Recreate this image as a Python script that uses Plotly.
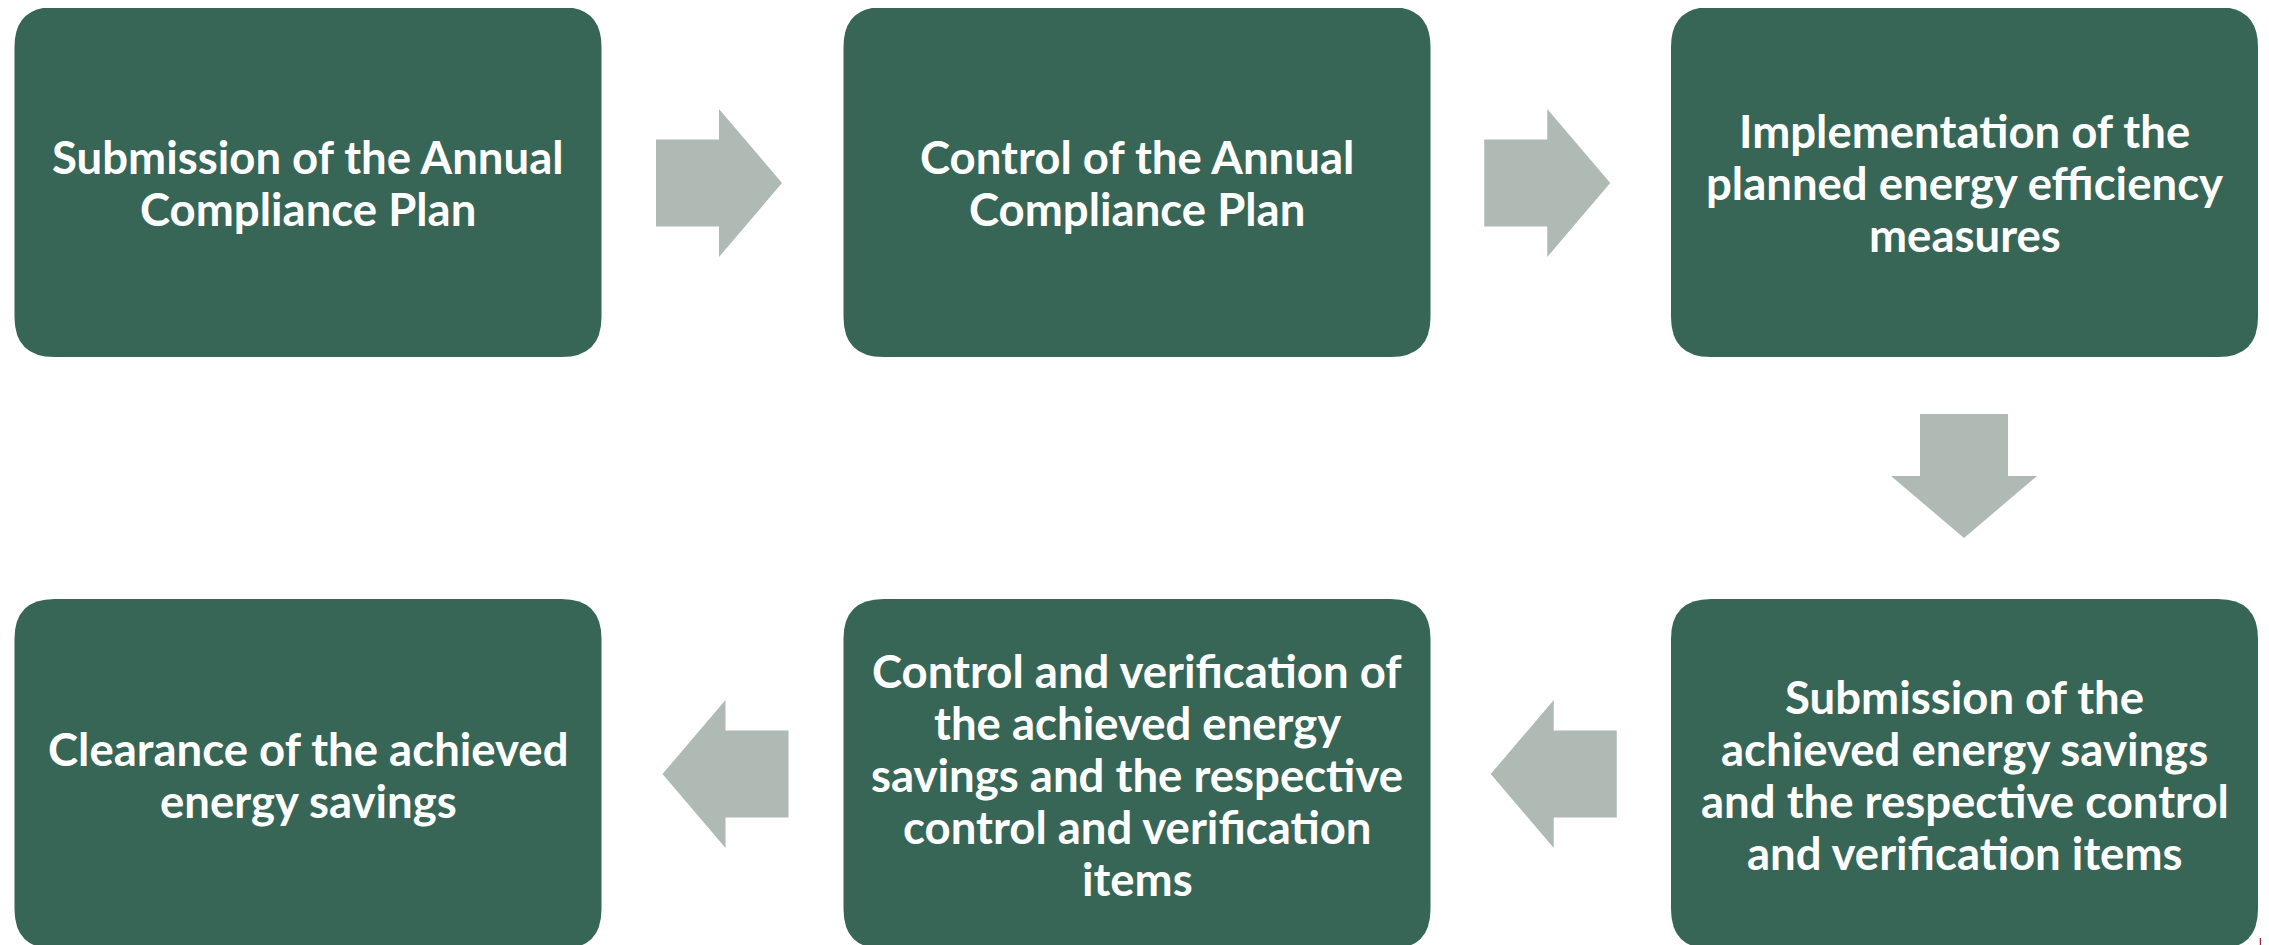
import plotly.graph_objects as go

# ---- data ----
steps = [
    ["Submission of the Annual", "Compliance Plan"],
    ["Control of the Annual", "Compliance Plan"],
    ["Implementation of the", "planned energy efficiency", "measures"],
    ["Submission of the", "achieved energy savings", "and the respective control", "and verification items"],
    ["Control and verification of", "the achieved energy", "savings and the respective",
     "control and verification", "items"],
    ["Clearance of the achieved", "energy savings"],
]
step_col = [0, 1, 2, 2, 1, 0]
step_row = [0, 0, 0, 1, 1, 1]
flow_dir = ["right", "right", "down", "left", "left"]

# ---- layout constants ----
W, H = 2269, 945
PAGE_OFF = 8  # default body margin of the html page
BOX_X = [14.5, 843.5, 1671]
BOX_W = 587
BOX_Y = [7, 599]
BOX_H = 350
R = 40
BOX_COLOR = "#376657"
ARROW_COLOR = "#B0BAB5"
FONT_SIZE = 45.5
LINE_GAP = 52

fig = go.Figure()

def rounded_rect(x0, y0, x1, y1, r):
    return (f"M {x0+r},{y0} L {x1-r},{y0} Q {x1},{y0} {x1},{y0+r} "
            f"L {x1},{y1-r} Q {x1},{y1} {x1-r},{y1} L {x0+r},{y1} "
            f"Q {x0},{y1} {x0},{y1-r} L {x0},{y0+r} Q {x0},{y0} {x0+r},{y0} Z")

shapes = []
annotations = []
for i, lines in enumerate(steps):
    x0 = BOX_X[step_col[i]]
    y0 = BOX_Y[step_row[i]]
    x1, y1 = x0 + BOX_W, y0 + BOX_H
    shapes.append(dict(type="path", path=rounded_rect(x0, y0, x1, y1, R),
                       xref="x", yref="y", fillcolor=BOX_COLOR,
                       line=dict(width=0), layer="below"))
    n = len(lines)
    cy = (y0 + y1) / 2
    for k, ln in enumerate(lines):
        ly = cy + (k - (n - 1) / 2) * LINE_GAP
        annotations.append(dict(x=(x0 + x1) / 2, y=ly, xref="x", yref="y",
                                text=f"<b>{ln}</b>", showarrow=False,
                                font=dict(family="Lato, sans-serif", size=FONT_SIZE, color="white"),
                                align="center", xanchor="center", yanchor="middle"))

def arrow_path(cx, cy, direction):
    shaft_half = 43.5
    head_half = 74
    seg = 63
    if direction == "right":
        xs = cx - seg
        pts = [(xs, cy - shaft_half), (cx, cy - shaft_half), (cx, cy - head_half),
               (cx + seg, cy), (cx, cy + head_half), (cx, cy + shaft_half), (xs, cy + shaft_half)]
    elif direction == "left":
        pts = [(cx + seg, cy - shaft_half), (cx, cy - shaft_half), (cx, cy - head_half),
               (cx - seg, cy), (cx, cy + head_half), (cx, cy + shaft_half), (cx + seg, cy + shaft_half)]
    else:  # down
        sh, hh, segv = 44, 73, 62
        pts = [(cx - sh, cy - segv), (cx - sh, cy), (cx - hh, cy), (cx, cy + segv),
               (cx + hh, cy), (cx + sh, cy), (cx + sh, cy - segv)]
    return "M " + " L ".join(f"{x},{y}" for x, y in pts) + " Z"

for i, d in enumerate(flow_dir):
    a, b = i, i + 1
    if d == "right":
        gap0 = BOX_X[step_col[a]] + BOX_W
        gap1 = BOX_X[step_col[b]]
        cx = (gap0 + gap1) / 2 - 3.5
        cy = BOX_Y[step_row[a]] + BOX_H / 2 + 1
    elif d == "left":
        gap0 = BOX_X[step_col[b]] + BOX_W
        gap1 = BOX_X[step_col[a]]
        cx = (gap0 + gap1) / 2 + 3
        cy = BOX_Y[step_row[a]] + BOX_H / 2
    else:
        cx = BOX_X[step_col[a]] + BOX_W / 2 - 0.5
        cy = (BOX_Y[0] + BOX_H + BOX_Y[1]) / 2 - 2
    shapes.append(dict(type="path", path=arrow_path(cx, cy, d), xref="x", yref="y",
                       fillcolor=ARROW_COLOR, line=dict(width=0), layer="below"))

# small red logo fragment at the bottom-right corner
for lx in [2260.5, 2263.5, 2266.5]:
    shapes.append(dict(type="line", x0=lx, x1=lx, y0=932 + (2266.5 - lx), y1=946,
                       xref="x", yref="y", line=dict(color="#A3243B", width=1.5)))

fig.update_layout(
    width=W, height=H,
    margin=dict(l=0, r=0, t=0, b=0),
    paper_bgcolor="white", plot_bgcolor="white",
    xaxis=dict(range=[PAGE_OFF, W + PAGE_OFF], visible=False, fixedrange=True),
    yaxis=dict(range=[H + PAGE_OFF, PAGE_OFF], visible=False, fixedrange=True),
    shapes=shapes, annotations=annotations, showlegend=False,
)

fig.write_html("out.html")
